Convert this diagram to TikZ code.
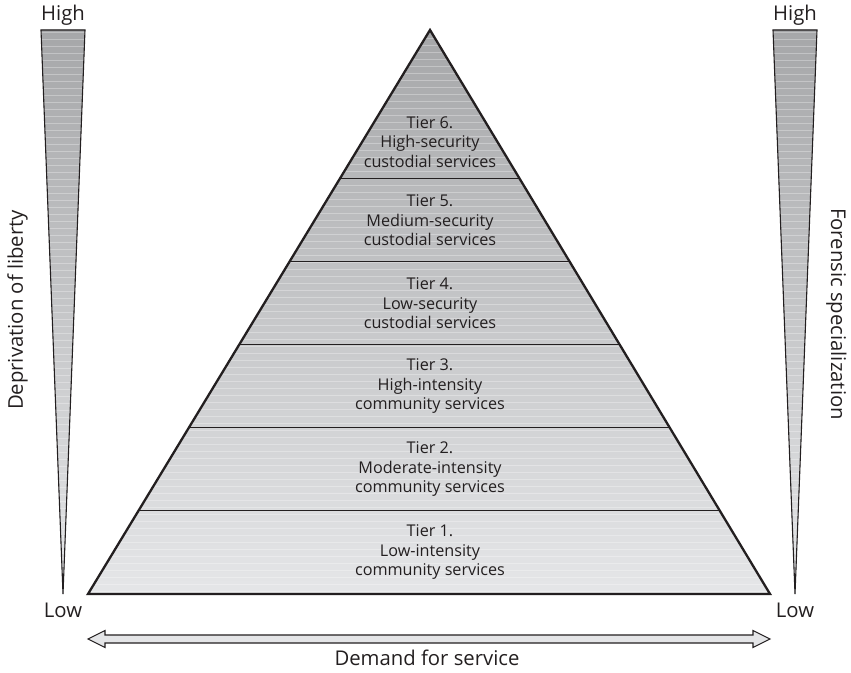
\documentclass[tikz,border=0pt]{standalone}
\usepackage{fontspec}
\setmainfont{Open Sans}
\usetikzlibrary{calc}
\definecolor{ink}{HTML}{231F20}
\definecolor{shadetop}{HTML}{A6A7A9}
\definecolor{shadebot}{HTML}{E5E6E8}
\definecolor{arrowfill}{HTML}{E4E5E7}
\begin{document}
\begin{tikzpicture}[x=1pt,y=1pt,
  outline/.style={draw=ink, line width=2.3pt, line join=miter},
  tierline/.style={draw=ink, line width=1.4pt},
  tierlabel/.style={align=center, text=ink, font=\fontsize{16.2}{19.5}\selectfont, inner sep=0pt},
  scalelabel/.style={text=ink, font=\fontsize{20.3}{24}\selectfont, inner sep=0pt},
  graded/.style={top color=shadetop, bottom color=shadebot},
  wedgeline/.style={draw=ink, line width=1.1pt, line join=miter},
  stripe/.style={white, opacity=0.3, line width=0.8pt}]
\useasboundingbox (0,0) rectangle (851,672);

% ---- pyramid body ----
\coordinate (apex) at (430,642);
\coordinate (bl) at (88,78);
\coordinate (br) at (770,78);
\fill[graded] (apex) -- (br) -- (bl) -- cycle;
\begin{scope}
  \clip (apex) -- (br) -- (bl) -- cycle;
  \foreach \y in {81,88,...,640} \draw[stripe] (80,\y) -- (780,\y);
\end{scope}

% tier boundaries
\foreach \t [count=\i] in {0.2633,0.4105,0.5576,0.7048,0.8520} {
  \coordinate (l\i) at ($(apex)!\t!(bl)$);
  \coordinate (r\i) at ($(apex)!\t!(br)$);
  \draw[tierline] (l\i) -- (r\i);
}
\draw[outline] (apex) -- (br) -- (bl) -- cycle;

% tier texts
\node[tierlabel] (t6) at (430,530)   {Tier 6.\\High-security\\custodial services};
\node[tierlabel] (t5) at (430,451.5) {Tier 5.\\Medium-security\\custodial services};
\node[tierlabel] (t4) at (430,368.5) {Tier 4.\\Low-security\\custodial services};
\node[tierlabel] (t3) at (430,285.5) {Tier 3.\\High-intensity\\community services};
\node[tierlabel] (t2) at (430,202.5) {Tier 2.\\Moderate-intensity\\community services};
\node[tierlabel] (t1) at (430,119.5) {Tier 1.\\Low-intensity\\community services};

% ---- left wedge: deprivation of liberty ----
\coordinate (lwa) at (41,642);
\coordinate (lwb) at (85,642);
\coordinate (lwtip) at (63,78);
\fill[graded] (lwa) -- (lwb) -- (lwtip) -- cycle;
\begin{scope}
  \clip (lwa) -- (lwb) -- (lwtip) -- cycle;
  \foreach \y in {80,87,...,640} \draw[stripe] (35,\y) -- (90,\y);
\end{scope}
\draw[wedgeline] (lwa) -- (lwb) -- (lwtip) -- cycle;

% ---- right wedge: forensic specialization ----
\coordinate (rwa) at (773,642);
\coordinate (rwb) at (817,642);
\coordinate (rwtip) at (795,78);
\fill[graded] (rwa) -- (rwb) -- (rwtip) -- cycle;
\begin{scope}
  \clip (rwa) -- (rwb) -- (rwtip) -- cycle;
  \foreach \y in {80,87,...,640} \draw[stripe] (765,\y) -- (825,\y);
\end{scope}
\draw[wedgeline] (rwa) -- (rwb) -- (rwtip) -- cycle;

% scale end labels
\node[scalelabel, anchor=base] (lhigh) at (63,651) {High};
\node[scalelabel, anchor=base] (rhigh) at (795,651) {High};
\node[scalelabel, anchor=base] (llow) at (63,55) {Low};
\node[scalelabel, anchor=base] (rlow) at (795,55) {Low};

% axis titles
\node[scalelabel, rotate=90, anchor=base] (dep) at (23,362) {Deprivation of liberty};
\node[scalelabel, rotate=-90, anchor=base] (for) at (831,358) {Forensic specialization};

% ---- demand arrow ----
\coordinate (al) at (88,33);
\coordinate (ar) at (770,33);
\filldraw[fill=arrowfill, draw=ink, line width=1.1pt, line join=miter]
  (al) -- ($(al)+(17,8.5)$) -- ($(al)+(17,4)$) -- ($(ar)+(-17,4)$) -- ($(ar)+(-17,8.5)$)
  -- (ar) -- ($(ar)+(-17,-8.5)$) -- ($(ar)+(-17,-4)$) -- ($(al)+(17,-4)$) -- ($(al)+(17,-8.5)$) -- cycle;
\node[scalelabel, anchor=base] (demand) at (427,7) {Demand for service};
\end{tikzpicture}
\end{document}
